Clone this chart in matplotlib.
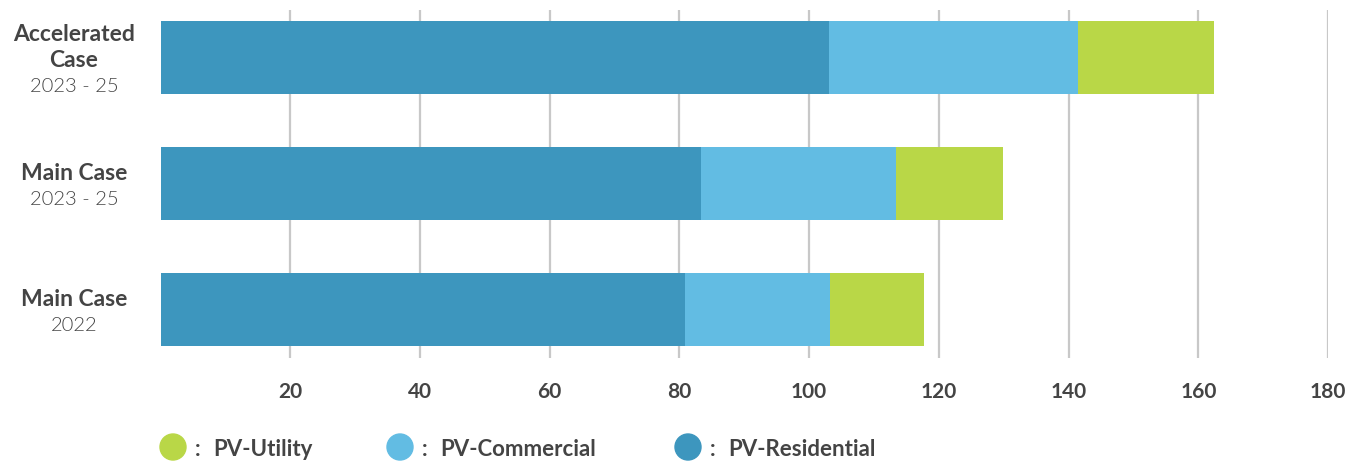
import matplotlib.pyplot as plt
from matplotlib.patches import Ellipse
from matplotlib.transforms import blended_transform_factory

# data, bottom to top
cat_bold = ['Main Case', 'Main Case', 'Accelerated\nCase']
cat_year = ['2022', '2023 - 25', '2023 - 25']
residential = [80.9, 83.3, 103.1]
commercial = [22.3, 30.1, 38.3]
utility = [14.5, 16.5, 21.1]
xticks = [20, 40, 60, 80, 100, 120, 140, 160, 180]

series_names = ['PV-Utility', 'PV-Commercial', 'PV-Residential']
colors = {'PV-Residential': '#3d96be', 'PV-Commercial': '#62bce3', 'PV-Utility': '#b9d747'}

plt.rcParams['font.family'] = ['Lato', 'DejaVu Sans']
text_col = '#444444'

fig = plt.figure(figsize=(13.61, 4.62), dpi=100)
ax = fig.add_axes([160.5 / 1361, 104 / 462, (1328 - 160.5) / 1361, 348 / 462])

y = list(range(len(cat_bold)))
h = 0.58
left = [0] * len(y)
for name, vals in [('PV-Residential', residential), ('PV-Commercial', commercial), ('PV-Utility', utility)]:
    ax.barh(y, vals, left=left, height=h, color=colors[name], zorder=3)
    left = [a + b for a, b in zip(left, vals)]

ax.set_xlim(0, 180)
ax.set_ylim(-0.385, 2.377)
ax.set_xticks(xticks)
ax.set_xticklabels([str(t) for t in xticks], fontsize=15, fontweight='bold', color=text_col)
ax.tick_params(axis='x', length=0, pad=17)
ax.set_yticks([])
ax.grid(axis='x', color='#c8c8c8', linewidth=1.6, zorder=0)
for s in ax.spines.values():
    s.set_visible(False)

# category labels: bold name lines + light year line
tr = blended_transform_factory(fig.transFigure, ax.transData)
step = 26 / 1.389  # line spacing in points
for yi, b, yr in zip(y, cat_bold, cat_year):
    lines = [(l, 'bold', 16.5) for l in b.split('\n')] + [(yr, 300, 14.5)]
    n = len(lines)
    for i, (txt, wt, fs) in enumerate(lines):
        off = ((n - 1) / 2 - i) * step
        ax.annotate(txt, xy=(74 / 1361, yi), xycoords=tr, xytext=(0, off - 2.2),
                    textcoords='offset points', ha='center', va='center',
                    fontsize=fs, fontweight=wt, color=text_col)

# legend drawn in pixel space
lax = fig.add_axes([0, 0, 1, 1])
lax.set_xlim(0, 1361)
lax.set_ylim(462, 0)
lax.axis('off')
leg_x = [173, 400, 688]
for lx, name in zip(leg_x, series_names):
    lax.add_patch(Ellipse((lx, 447), 26, 26, color=colors[name]))
    lax.text(lx + 25, 449, ':', ha='center', va='center', fontsize=16,
             fontweight='bold', color=text_col)
    lax.text(lx + 40, 449, name, ha='left', va='center', fontsize=16,
             fontweight='bold', color=text_col)

fig.savefig('out.png', dpi=100)
